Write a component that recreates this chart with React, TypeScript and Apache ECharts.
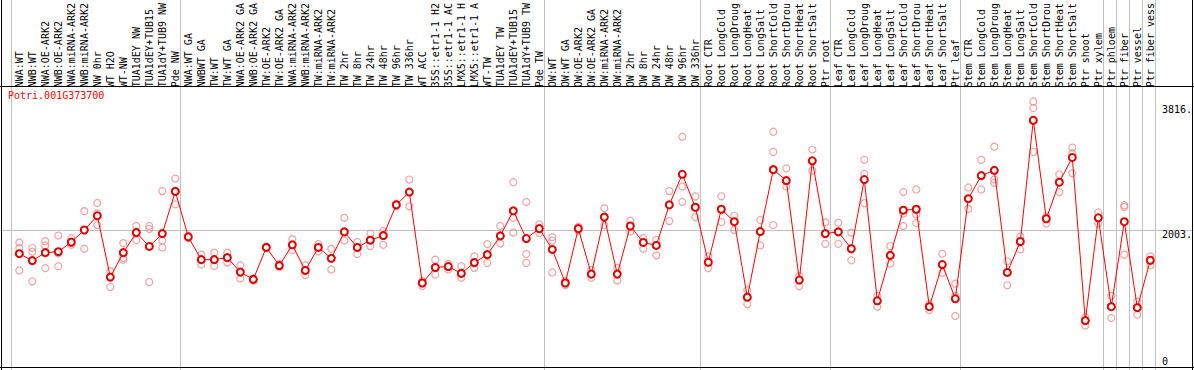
import React, { useEffect, useRef } from "react";
import * as echarts from "echarts";

const categories = [
  "NWA:WT","NWB:WT","NWA:OE-ARK2","NWB:OE-ARK2","NWA:miRNA-ARK2","NWB:miRNA-ARK2","NW 0hr","WT H2O","WT-NW","TUA1dEY NW","TUA1dEY+TUB15","TUA1dY+TUB9 NW","Pde NW",
  "NWA:WT GA","NWBWT GA","TW:WT","TW:WT GA","NWA:OE-ARK2 GA","NWB:OE-ARK2 GA","TW:OE-ARK2","TW:OE-ARK2 GA","NWA:miRNA-ARK2","NWB:miRNA-ARK2","TW:miRNA-ARK2","TW:miRNA-ARK2","TW 2hr","TW 8hr","TW 24hr","TW 48hr","TW 96hr","TW 336hr","WT ACC","35S::etr1-1 H2","35S::etr1-1 AC","LMX5::etr1-1 H","LMX5::etr1-1 A","WT-TW","TUA1dEY TW","TUA1dEY+TUB15","TUA1dY+TUB9 TW","Pde TW",
  "OW:WT","OW:WT GA","OW:OE-ARK2","OW:OE-ARK2 GA","OW:miRNA-ARK2","OW:miRNA-ARK2","OW 2hr","OW 8hr","OW 24hr","OW 48hr","OW 96hr","OW 336hr",
  "Root CTR","Root LongCold","Root LongDroug","Root LongHeat","Root LongSalt","Root ShortCold","Root ShortDrou","Root ShortHeat","Root ShortSalt","Ptr root",
  "Leaf CTR","Leaf LongCold","Leaf LongDroug","Leaf LongHeat","Leaf LongSalt","Leaf ShortCold","Leaf ShortDrou","Leaf ShortHeat","Leaf ShortSalt","Ptr leaf",
  "Stem CTR","Stem LongCold","Stem LongDroug","Stem LongHeat","Stem LongSalt","Stem ShortCold","Stem ShortDrou","Stem ShortHeat","Stem ShortSalt","Ptr shoot","Ptr xylem",
  "Ptr phloem","Ptr fiber","Ptr vessel","Ptr fiber vess",
];

const meanValues = [
  1658,1558,1673,1687,1826,2002,2208,1319,1673,1964,1763,1950,2562,
  1902,1572,1572,1601,1391,1286,1749,1486,1787,1415,1749,1591,1974,1749,1854,1921,2366,2552,1233,1458,1472,1372,1529,1644,1916,2280,1878,2022,
  1720,1233,2022,1362,2189,1362,2060,1821,1778,2366,2810,2332,
  1534,2303,2122,1027,1979,2877,2719,1276,3006,1950,
  1974,1730,2734,975,1634,2289,2303,889,1501,1004,
  2456,2791,2867,1386,1835,3594,2165,2695,3054,688,2179,
  889,2122,875,1563,
];

const rep1 = [
  1821,1740,1840,1921,1883,2275,2394,1405,1811,2060,2060,2566,2748,
  1921,1644,1673,1673,1491,1300,1763,1510,1869,1491,1797,1730,2179,1826,1950,1988,2385,2734,1262,1572,1510,1477,1620,1797,2060,2695,2409,2084,
  1897,1262,2050,1424,2318,1453,2136,1883,1859,2566,3355,2490,
  1620,2490,2208,1128,2146,3427,2896,1333,3169,2112,
  2108,1964,3020,1047,1768,2552,2590,927,1658,1223,
  2619,3020,3211,1548,1907,3866,2198,2810,3197,736,2256,
  1047,2361,965,1620,
];

const rep2 = [
  1740,1687,1778,1663,1811,2002,2241,1309,1596,1979,2017,1849,2562,
  1902,1572,1572,1601,1391,1286,1749,1486,1787,1415,1749,1591,1974,1749,1854,1921,2366,2552,1233,1458,1472,1372,1529,1644,1916,2179,1654,2022,
  1849,1233,2022,1367,2189,1362,2060,1821,1778,2366,2633,2332,
  1534,2303,2122,1027,1979,3135,2719,1276,3006,1950,
  1974,1730,2815,975,1634,2241,2227,889,1501,1047,
  2456,2791,2734,1386,1835,3771,2165,2695,3116,688,2179,
  889,2337,875,1563,
];

const rep3 = [
  1415,1257,1448,1477,1787,1730,2074,1176,1572,1854,1247,1749,2375,
  1883,1501,1481,1529,1300,1271,1740,1462,1711,1348,1692,1429,1849,1654,1768,1787,2346,2346,1190,1357,1429,1309,1453,1525,1806,1964,1525,1955,
  1386,1200,1993,1309,2074,1271,1979,1730,1634,2131,2409,2189,
  1448,2117,2002,927,1778,2074,2633,1185,2863,1802,
  1802,1563,2390,889,1515,2060,2103,841,1381,755,
  2308,2590,2686,1200,1720,3135,2098,2552,2824,616,2098,
  726,1644,774,1486,
];

// group boundaries (index of first category of each group; last = end)
const groupStarts = [0, 13, 41, 53, 63, 73, 84, 85, 86, 87, 88];

const yTickValues = [3816, 2003, 0];
const yTickLabels = ["3816.", "2003.", "0"];
const yGridValues = [2003];
const geneName = "Potri.001G373700";

const FONT = "DejaVu Sans Mono";

export default function App() {
  const ref = useRef<HTMLDivElement>(null);

  useEffect(() => {
    if (!ref.current) return;
    const chart = echarts.init(ref.current, null, { renderer: "svg" });
    const W = 1194;
    const H = 370;
    const gridTop = 86;
    const gridBottom = 2;
    const gridLeft = 12.8;
    const gridRight = 37.2;

    const repSeries = [rep1, rep2, rep3].map((arr, k) => ({
      type: "scatter",
      name: "rep" + (k + 1),
      data: arr,
      symbol: "circle",
      symbolSize: 7,
      itemStyle: { color: "rgba(0,0,0,0)", borderColor: "#ee8c8c", borderWidth: 1.2 },
      z: 2,
      silent: true,
    }));

    chart.setOption({
      animation: false,
      title: {
        text: geneName,
        left: 8,
        top: 90,
        padding: 0,
        textStyle: { color: "#ff0000", fontSize: 10, fontWeight: "normal", fontFamily: FONT },
      },
      grid: { left: gridLeft, right: gridRight, top: gridTop, bottom: gridBottom, containLabel: false },
      xAxis: {
        type: "category",
        data: categories,
        position: "top",
        boundaryGap: true,
        axisLine: { show: false },
        axisTick: { show: false },
        splitLine: { show: false },
        axisLabel: {
          interval: 0,
          rotate: 90,
          margin: 2,
          fontSize: 10,
          fontFamily: FONT,
          color: "#000",
        },
      },
      yAxis: {
        type: "value",
        min: 0,
        max: 4043,
        show: false,
        splitLine: { show: false },
      },
      series: [
        ...repSeries,
        {
          type: "line",
          name: "mean",
          data: meanValues,
          showAllSymbol: true,
          symbol: "emptyCircle",
          symbolSize: 7,
          lineStyle: { color: "#ff0000", width: 1 },
          itemStyle: { color: "#e00000", borderWidth: 1.4 },
          z: 4,
          silent: true,
        },
      ],
    });

    const cx = (i: number) => chart.convertToPixel({ xAxisIndex: 0 }, i) as number;
    const band = cx(1) - cx(0);
    const center = (i: number) => cx(0) + band * i;
    const py = (v: number) => chart.convertToPixel({ yAxisIndex: 0 }, v) as number;
    const bottomPx = H - gridBottom;

    const graphics: any[] = [];
    groupStarts.forEach((g) => {
      const x = Math.round(center(g) - band * 0.64) + 0.5;
      graphics.push({
        type: "line",
        z: 0,
        silent: true,
        shape: { x1: x, y1: 0, x2: x, y2: H },
        style: { stroke: "#c0c0c0", lineWidth: 1 },
      });
    });
    yGridValues.forEach((v) => {
      const y = Math.round(py(v)) + 0.5;
      graphics.push({
        type: "line",
        z: 0,
        silent: true,
        shape: { x1: 0, y1: y, x2: W, y2: y },
        style: { stroke: "#c0c0c0", lineWidth: 1 },
      });
    });
    const black = { stroke: "#000", lineWidth: 1 };
    graphics.push(
      { type: "line", z: 10, silent: true, shape: { x1: 1.5, y1: 0, x2: 1.5, y2: H }, style: black },
      { type: "line", z: 10, silent: true, shape: { x1: W - 1.5, y1: 0, x2: W - 1.5, y2: H }, style: black },
      { type: "line", z: 10, silent: true, shape: { x1: 0, y1: gridTop + 0.5, x2: W, y2: gridTop + 0.5 }, style: black },
      { type: "line", z: 10, silent: true, shape: { x1: 0, y1: bottomPx - 0.5, x2: W, y2: bottomPx - 0.5 }, style: black }
    );
    const labelX = center(88) - band * 0.64 + 7;
    yTickValues.forEach((v, k) => {
      const y = Math.min(py(v), bottomPx - 12);
      graphics.push({
        type: "text",
        z: 10,
        silent: true,
        x: labelX,
        y: y,
        style: {
          text: yTickLabels[k],
          fill: "#000",
          fontSize: 10,
          fontFamily: FONT,
          align: "left",
          verticalAlign: "top",
        },
      });
    });

    chart.setOption({ graphic: graphics });

    return () => chart.dispose();
  }, []);

  return (
    <div
      ref={ref}
      style={{ position: "absolute", left: 0, top: 0, width: 1194, height: 370 }}
    />
  );
}
